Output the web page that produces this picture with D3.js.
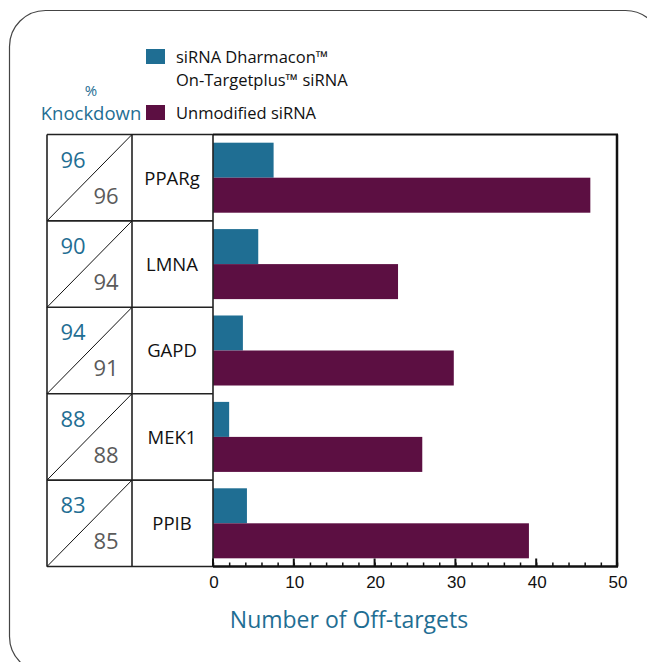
<!DOCTYPE html>
<html>
<head>
<meta charset="utf-8">
<script src="https://cdn.jsdelivr.net/npm/d3@7"></script>
<style>
  body { margin: 0; background: #fff; }
  svg { display: block; font-family: "Open Sans", "Noto Sans", sans-serif; }
</style>
</head>
<body>
<svg width="647" height="662"></svg>
<script>
// values
var genes = ["PPARg", "LMNA", "GAPD", "MEK1", "PPIB"];
var onTarget = [7.5, 5.6, 3.7, 2.0, 4.2];
var unmodified = [46.7, 22.9, 29.8, 25.9, 39.1];
var kdOnTarget = [96, 90, 94, 88, 83];
var kdUnmodified = [96, 94, 91, 88, 85];
var seriesNames = ["siRNA Dharmacon\u2122|On-Targetplus\u2122 siRNA", "Unmodified siRNA"];
var xTicks = [0, 10, 20, 30, 40, 50];

const teal = "#1f6e93", plum = "#5c0f42";
const svg = d3.select("svg");

// outer rounded frame
svg.append("rect").attr("x", 9.5).attr("y", 10.5).attr("width", 652).attr("height", 662)
  .attr("rx", 36).attr("fill", "none").attr("stroke", "#444").attr("stroke-width", 1.2);

const col1 = 47, col2 = 132, plotL = 213, plotR = 617, tableTop = 134.5, tableBottom = 566.5;

const x = d3.scaleLinear().domain([0, 50]).range([plotL, plotR]);
const y = d3.scaleBand().domain(genes).range([tableTop, tableBottom]);
const inner = d3.scaleBand().domain([0, 1]).range([0, y.bandwidth()]).paddingOuter(0.234);

const rows = genes.map((g, i) => ({gene: g, vals: [onTarget[i], unmodified[i]], kd: [kdOnTarget[i], kdUnmodified[i]]}));

// bars
const gRows = svg.selectAll("g.row").data(rows).enter().append("g")
  .attr("class", "row").attr("transform", d => `translate(0,${y(d.gene)})`);
gRows.selectAll("rect").data(d => d.vals).enter().append("rect")
  .attr("x", x(0)).attr("y", (d, i) => inner(i))
  .attr("width", d => x(d) - x(0)).attr("height", inner.bandwidth())
  .attr("fill", (d, i) => i ? plum : teal);

// table grid
const grid = svg.append("g").attr("stroke", "#222").attr("stroke-width", 1.6).attr("fill", "none");
genes.forEach(g => {
  grid.append("line").attr("x1", col1).attr("x2", plotL).attr("y1", y(g)).attr("y2", y(g));
  svg.append("line").attr("x1", col1).attr("y1", y(g) + y.bandwidth()).attr("x2", col2).attr("y2", y(g))
    .attr("stroke", "#111").attr("stroke-width", 1);
});
grid.append("line").attr("x1", col1).attr("x2", plotL).attr("y1", tableBottom).attr("y2", tableBottom);
[col1, col2, plotL].forEach(c => grid.append("line").attr("x1", c).attr("x2", c).attr("y1", tableTop).attr("y2", tableBottom));
// plot box top and right
svg.append("line").attr("x1", plotL).attr("x2", plotR + 1).attr("y1", tableTop).attr("y2", tableTop)
  .attr("stroke", "#111").attr("stroke-width", 2);
svg.append("line").attr("x1", plotR).attr("x2", plotR).attr("y1", tableTop).attr("y2", tableBottom)
  .attr("stroke", "#111").attr("stroke-width", 2.5);

// knockdown numbers and gene names
gRows.append("text").attr("x", 73).attr("y", 33).attr("text-anchor", "middle")
  .attr("fill", teal).style("font-size", "22px").text(d => d.kd[0]);
gRows.append("text").attr("x", 106).attr("y", 69).attr("text-anchor", "middle")
  .attr("fill", "#5a5a5a").style("font-size", "22px").text(d => d.kd[1]);
gRows.append("text").attr("x", 172).attr("y", y.bandwidth() / 2 + 7).attr("text-anchor", "middle")
  .attr("fill", "#111").style("font-size", "18.5px").text(d => d.gene);

// header
svg.append("text").attr("x", 91).attr("y", 96).attr("text-anchor", "middle").attr("fill", teal)
  .style("font-size", "15px").text("%");
svg.append("text").attr("x", 91).attr("y", 120).attr("text-anchor", "middle").attr("fill", teal)
  .style("font-size", "18.5px").text("Knockdown");

// legend
const legY = [49, 105];
seriesNames.forEach((s, i) => {
  svg.append("rect").attr("x", 146).attr("y", legY[i]).attr("width", 19).attr("height", 15)
    .attr("fill", i ? plum : teal);
  const t = svg.append("text").attr("fill", "#111").style("font-size", "16.5px");
  s.split("|").forEach((line, j) => {
    t.append("tspan").attr("x", 176).attr("y", legY[i] + 14 + j * 23).text(line);
  });
});

// x axis
const axis = svg.append("g").attr("transform", `translate(0,${tableBottom})`);
axis.call(d3.axisBottom(x).tickValues(d3.range(0, 51, 2)).tickSize(-4).tickFormat(""))
  .call(g => g.select(".domain").remove());
axis.append("line").attr("x1", plotL).attr("x2", plotR + 1).attr("stroke", "#111").attr("stroke-width", 2.5);
axis.selectAll(".tick line").attr("stroke", "#111").attr("stroke-width", 1.5);
axis.selectAll(".major").data(xTicks).enter().append("line").attr("class", "major")
  .attr("x1", d => x(d)).attr("x2", d => x(d)).attr("y1", 0).attr("y2", -8)
  .attr("stroke", "#111").attr("stroke-width", 2);
axis.selectAll(".lbl").data(xTicks).enter().append("text").attr("class", "lbl")
  .attr("x", d => x(d) + 1).attr("y", 21.5).attr("text-anchor", "middle").attr("fill", "#111")
  .style("font-size", "17px").text(d => d);

svg.append("text").attr("x", 349).attr("y", 628).attr("text-anchor", "middle").attr("fill", teal)
  .style("font-size", "23px").text("Number of Off-targets");
</script>
</body>
</html>
